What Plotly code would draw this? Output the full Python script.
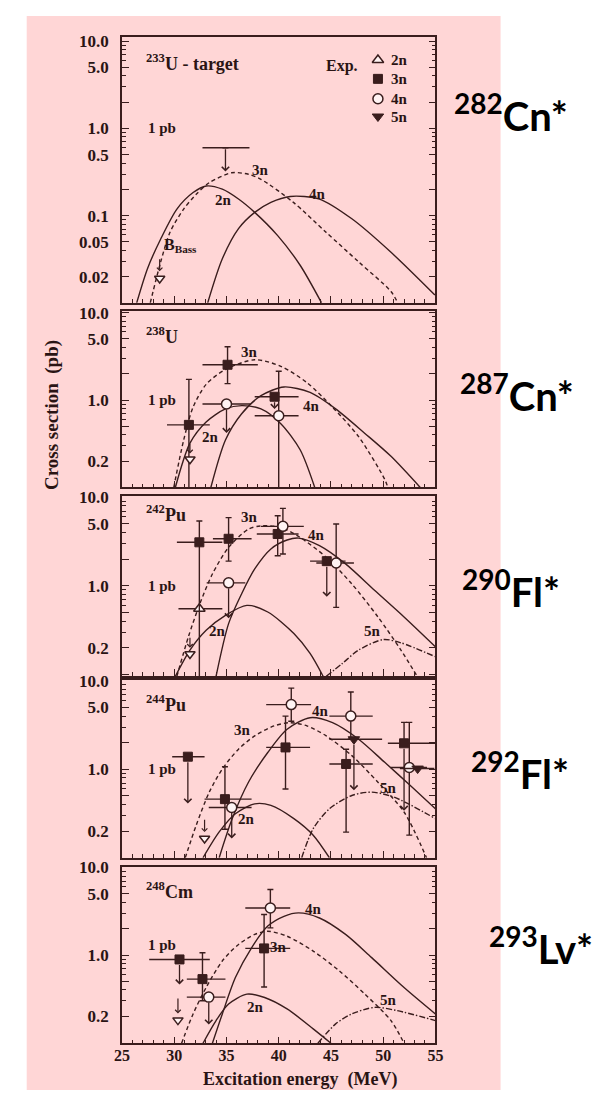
import math
import plotly.graph_objects as go

# ---------------- theoretical excitation functions ----------------
# 233U target -> 282Cn*
u233_2n_E = [26.4, 27.45, 28.7, 30.25, 31.8, 33.05, 34.6, 36.15, 37.7, 39.9, 42.05, 44.1]
u233_2n_S = [0.010, 0.025, 0.054, 0.119, 0.184, 0.219, 0.201, 0.155, 0.109, 0.059, 0.027, 0.010]
u233_3n_E = [27.7, 28.7, 29.6, 30.9, 32.1, 33.35, 35.5, 37.1, 38.3, 41.4, 44.5, 47.65, 50.75, 51.4]
u233_3n_S = [0.010, 0.0295, 0.065, 0.119, 0.176, 0.239, 0.310, 0.298, 0.261, 0.142, 0.065, 0.0295, 0.0135, 0.010]
u233_4n_E = [33.2, 34.6, 36.15, 37.7, 39.25, 41.1, 43.9, 47.0, 50.75, 54.95]
u233_4n_S = [0.010, 0.032, 0.071, 0.109, 0.142, 0.166, 0.155, 0.092, 0.038, 0.0123]

# 238U target -> 287Cn*
u238_2n_E = [30.1, 31.5, 33.05, 34.9, 36.45, 38.3, 40.2, 42.05, 43.45]
u238_2n_S = [0.10, 0.321, 0.561, 0.792, 0.863, 0.792, 0.537, 0.270, 0.10]
u238_3n_E = [29.95, 30.9, 31.8, 33.05, 34.9, 37.7, 40.2, 42.7, 45.15, 47.65, 50.15, 50.45]
u238_3n_S = [0.10, 0.349, 0.828, 1.51, 2.23, 2.89, 2.43, 1.58, 0.828, 0.381, 0.124, 0.10]
u238_4n_E = [33.5, 34.9, 36.45, 38.3, 40.5, 43.0, 45.45, 48.25, 50.75, 53.55]
u238_4n_S = [0.10, 0.349, 0.697, 1.12, 1.41, 1.22, 0.792, 0.415, 0.227, 0.10]

# 242Pu target -> 290Fl*
pu242_2n_E = [30.1, 31.5, 33.05, 34.9, 36.95, 38.95, 41.45, 43.0, 44.25]
pu242_2n_S = [0.095, 0.188, 0.315, 0.464, 0.601, 0.506, 0.289, 0.172, 0.095]
pu242_3n_E = [30.25, 31.35, 32.45, 33.65, 35.2, 37.1, 38.35, 40.2, 42.05, 44.55, 47.0, 49.5, 51.7, 53.25]
pu242_3n_S = [0.095, 0.265, 0.628, 1.36, 2.72, 4.37, 4.76, 4.57, 3.52, 2.10, 1.05, 0.445, 0.188, 0.095]
pu242_4n_E = [34.0, 35.2, 36.45, 37.7, 39.25, 40.8, 41.9, 43.9, 46.4, 49.2, 52.0, 55.0]
pu242_4n_S = [0.095, 0.374, 0.813, 1.55, 2.61, 3.29, 3.46, 2.84, 1.77, 0.885, 0.445, 0.205]
pu242_5n_E = [44.55, 46.1, 47.65, 50.0, 51.7, 55.0]
pu242_5n_S = [0.095, 0.133, 0.188, 0.247, 0.227, 0.158]

# 244Pu target -> 292Fl*
pu244_2n_E = [32.75, 34.3, 35.85, 37.7, 39.25, 41.45, 43.3, 44.85]
pu244_2n_S = [0.10, 0.196, 0.315, 0.407, 0.391, 0.277, 0.18, 0.10]
pu244_3n_E = [31.05, 32.1, 33.35, 34.6, 36.15, 37.7, 39.55, 41.1, 42.7, 44.55, 47.0, 49.5, 52.0, 54.15]
pu244_3n_S = [0.10, 0.233, 0.552, 1.01, 1.69, 2.39, 3.10, 3.37, 3.10, 2.39, 1.43, 0.714, 0.329, 0.10]
pu244_4n_E = [34.3, 35.55, 37.1, 38.95, 40.8, 43.0, 45.15, 47.65, 50.15, 52.6, 55.0]
pu244_4n_S = [0.10, 0.277, 0.714, 1.55, 2.84, 3.84, 3.37, 2.19, 1.20, 0.656, 0.358]
pu244_5n_E = [42.2, 43.3, 44.85, 47.0, 48.9, 51.05, 55.0]
pu244_5n_S = [0.10, 0.213, 0.358, 0.506, 0.552, 0.484, 0.277]

# 248Cm target -> 293Lv*
cm248_2n_E = [32.75, 34.0, 35.2, 36.95, 38.65, 40.8, 43.3, 45.0]
cm248_2n_S = [0.098, 0.178, 0.275, 0.357, 0.327, 0.242, 0.143, 0.098]
cm248_3n_E = [30.7, 31.8, 33.05, 34.6, 36.15, 37.7, 38.95, 40.8, 43.3, 45.8, 48.25, 50.75, 52.0]
cm248_3n_S = [0.098, 0.212, 0.425, 0.855, 1.32, 1.72, 1.87, 1.64, 1.11, 0.658, 0.357, 0.178, 0.098]
cm248_4n_E = [33.65, 34.6, 35.85, 37.4, 38.95, 40.5, 41.9, 43.9, 46.4, 48.9, 52.0, 55.0]
cm248_4n_S = [0.098, 0.212, 0.552, 1.21, 2.14, 2.77, 3.03, 2.65, 1.72, 0.933, 0.425, 0.212]
cm248_5n_E = [43.75, 45.45, 47.0, 49.2, 51.35, 55.0]
cm248_5n_S = [0.098, 0.163, 0.212, 0.252, 0.231, 0.178]

# ---------------- experimental points ----------------
# (E, sigma, E_low, E_high, sigma_low, sigma_high, channel, upper-limit arrow to)
u233_pts = [(34.9, 0.60, 32.7, 37.2, 0.60, 0.60, "ul", 0.32)]
u238_pts = [
    (31.4, 0.52, 29.3, 33.4, 0.05, 1.72, "3n", None),
    (35.1, 2.53, 32.7, 38.0, 1.54, 4.07, "3n", None),
    (35.0, 0.90, 32.7, 37.3, 0.90, 0.90, "4n", 0.42),
    (39.6, 1.09, 37.7, 41.9, 1.09, 1.09, "3n", 0.79),
    (40.0, 0.66, 37.7, 41.9, 0.05, 2.13, "4n", None),
]
pu242_pts = [
    (32.4, 3.10, 30.25, 34.6, 0.05, 5.4, "3n", None),
    (35.2, 3.40, 33.7, 37.4, 1.9, 5.9, "3n", None),
    (35.2, 1.08, 33.1, 36.8, 1.08, 1.08, "4n", 0.43),
    (32.4, 0.55, 30.4, 34.6, 0.55, 0.55, "2n", None),
    (40.4, 4.70, 38.3, 42.4, 2.29, 7.5, "4n", None),
    (39.9, 3.85, 37.9, 41.9, 2.19, 6.2, "3n", None),
    (44.6, 1.90, 43.0, 46.4, 1.90, 1.90, "3n", 0.75),
    (45.5, 1.81, 43.6, 47.2, 0.57, 5.0, "4n", None),
]
pu244_pts = [
    (31.3, 1.39, 29.8, 32.9, 1.39, 1.39, "3n", 0.41),
    (34.85, 0.46, 32.9, 37.4, 0.21, 1.07, "3n", None),
    (35.5, 0.37, 33.3, 37.4, 0.37, 0.37, "4n", 0.165),
    (40.65, 1.77, 38.8, 43.0, 0.60, 4.0, "3n", None),
    (41.2, 5.40, 38.8, 43.1, 3.5, 8.3, "4n", None),
    (46.9, 4.00, 44.85, 49.0, 2.2, 7.5, "4n", None),
    (47.2, 2.19, 44.85, 49.9, 2.19, 2.19, "5n", 0.58),
    (46.45, 1.15, 44.85, 49.0, 0.195, 1.69, "3n", None),
    (52.0, 1.97, 50.45, 55.0, 1.97, 3.4, "3n", 0.34),
    (52.5, 1.05, 50.7, 54.2, 0.18, 3.4, "4n", None),
    (53.3, 1.02, 51.6, 54.9, 1.02, 1.02, "5n", None),
]
cm248_pts = [
    (30.5, 0.89, 27.6, 33.4, 0.89, 0.89, "3n", 0.46),
    (32.7, 0.53, 31.2, 34.9, 0.30, 1.06, "3n", None),
    (33.3, 0.33, 31.2, 34.9, 0.33, 0.33, "4n", 0.16),
    (39.2, 3.45, 36.8, 41.1, 2.04, 5.6, "4n", None),
    (38.6, 1.19, 36.8, 41.1, 0.43, 2.9, "3n", None),
]
# 2n upper limits (open down-triangles) : (E, sigma, arrow tail, arrow head)
u233_tri = [(28.6, 0.019, 0.033, 0.023)]
u238_tri = [(31.5, 0.21, 0.33, 0.245)]
pu242_tri = [(31.5, 0.17, 0.27, 0.20)]
pu244_tri = [(32.9, 0.165, 0.28, 0.195)]
cm248_tri = [(30.35, 0.18, 0.33, 0.215)]

# curve labels: (text, E, sigma)
u233_lbl = [("3n", 38.3, 0.333), ("2n", 34.7, 0.152), ("4n", 43.7, 0.178)]
u238_lbl = [("3n", 37.2, 3.55), ("2n", 33.5, 0.374), ("4n", 43.1, 0.857)]
pu242_lbl = [("3n", 37.2, 5.96), ("4n", 43.6, 3.74), ("2n", 34.1, 0.312), ("5n", 49.0, 0.312)]
pu244_lbl = [("4n", 44.0, 4.6), ("3n", 36.5, 2.81), ("2n", 36.9, 0.274), ("5n", 50.5, 0.612)]
cm248_lbl = [("4n", 43.3, 3.33), ("3n", 40.0, 1.23), ("2n", 37.8, 0.257), ("5n", 50.5, 0.308)]

targets = ["<sup>233</sup>U - target", "<sup>238</sup>U", "<sup>242</sup>Pu", "<sup>244</sup>Pu", "<sup>248</sup>Cm"]
compounds = ["<sup>282</sup>Cn*", "<sup>287</sup>Cn*", "<sup>290</sup>Fl*", "<sup>292</sup>Fl*", "<sup>293</sup>Lv*"]
x_tick_vals = [25, 30, 35, 40, 45, 50, 55]
legend_channels = ["2n", "3n", "4n", "5n"]
legend_sigma = [6.08, 3.7, 2.19, 1.37]

# ---------------- styling / layout ----------------
# the page adds an 8px body margin, so the figure is drawn 16px smaller and shifted
OFF = 8
W, H = 610 - 2 * OFF, 1098 - 2 * OFF
PINK = "#FFD6D6"
INK = "#3a1d1d"
TXT = "#2a1414"
SERIF = "Liberation Serif"
X0, X1 = 117 - OFF, 439 - OFF
panel_px = [(29, 297), (305, 483), (492, 673), (677, 856), (865, 1043)]
y_ranges = [[-2.0, 1.05], [-1.0, 1.02], [-1.02, 1.01], [-1.0, 1.01], [-1.01, 1.01]]
title_ydom = [0.905, 0.86, 0.905, 0.87, 0.865]
comp_xy = [(517, 106), (523, 388), (517, 585), (526, 769), (548, 945)]

curves = [
    [(u233_2n_E, u233_2n_S, "solid"), (u233_3n_E, u233_3n_S, "dash"), (u233_4n_E, u233_4n_S, "solid")],
    [(u238_2n_E, u238_2n_S, "solid"), (u238_3n_E, u238_3n_S, "dash"), (u238_4n_E, u238_4n_S, "solid")],
    [(pu242_2n_E, pu242_2n_S, "solid"), (pu242_3n_E, pu242_3n_S, "dash"), (pu242_4n_E, pu242_4n_S, "solid"),
     (pu242_5n_E, pu242_5n_S, "dashdot")],
    [(pu244_2n_E, pu244_2n_S, "solid"), (pu244_3n_E, pu244_3n_S, "dash"), (pu244_4n_E, pu244_4n_S, "solid"),
     (pu244_5n_E, pu244_5n_S, "dashdot")],
    [(cm248_2n_E, cm248_2n_S, "solid"), (cm248_3n_E, cm248_3n_S, "dash"), (cm248_4n_E, cm248_4n_S, "solid"),
     (cm248_5n_E, cm248_5n_S, "dashdot")],
]
points = [u233_pts, u238_pts, pu242_pts, pu244_pts, cm248_pts]
tris = [u233_tri, u238_tri, pu242_tri, pu244_tri, cm248_tri]
labels = [u233_lbl, u238_lbl, pu242_lbl, pu244_lbl, cm248_lbl]

DASH = {"solid": "solid", "dash": "4px,3px", "dashdot": "6px,2px,1.5px,2px"}
LIGHT = "#FFF3F3"
MARK = {
    "2n": dict(symbol="triangle-up", size=10, color=LIGHT, line=dict(color=INK, width=1.5)),
    "3n": dict(symbol="square", size=9, color=INK, line=dict(color=INK, width=1)),
    "4n": dict(symbol="circle", size=10, color=LIGHT, line=dict(color=INK, width=1.5)),
    "5n": dict(symbol="triangle-down", size=10, color=INK, line=dict(color=INK, width=1)),
    "ul": dict(symbol="circle", size=1, color=INK),
}
TICKFONT = dict(family=SERIF, size=17, color=TXT, weight="bold")
XTICKFONT = dict(family=SERIF, size=16, color=TXT, weight="bold")
LBLFONT = dict(family=SERIF, size=15, color=TXT, weight="bold")


def px_x(p):
    return (p - OFF) / W


def px_y(p):
    return 1 - (p - OFF) / H


def sfx(i):
    return "" if i == 0 else str(i + 1)


fig = go.Figure()
annotations = []
shapes = [dict(type="rect", xref="paper", yref="paper", x0=px_x(19), x1=px_x(506),
               y0=max(0, px_y(1090)), y1=1, fillcolor=PINK, line=dict(width=0), layer="below")]
layout_axes = {}

for i in range(5):
    s = sfx(i)
    xa, ya = "x" + s, "y" + s
    top, bot = panel_px[i]

    if i == 0:
        tv = [0.02, 0.05, 0.1, 0.2, 0.5, 1, 2, 5, 10]
        tt = ["0.02", "0.05", "0.1", "", "0.5", "1.0", "", "5.0", "10.0"]
    else:
        tv = [0.1, 0.2, 0.5, 1, 2, 5, 10]
        tt = ["", "0.2", "", "1.0", "", "5.0", "10.0"]
    layout_axes["xaxis" + s] = dict(
        domain=[X0 / W, X1 / W], range=[25, 55], anchor=ya, showgrid=False, zeroline=False,
        showline=True, linecolor=INK, linewidth=1.6, mirror=True,
        ticks="inside", ticklen=7, tickwidth=1.3, tickcolor=INK, tickvals=x_tick_vals,
        showticklabels=(i == 4), ticklabelstandoff=-3, tickfont=XTICKFONT,
        minor=dict(ticks="inside", ticklen=4, tickwidth=1.1, tickcolor=INK, dtick=1, showgrid=False),
    )
    layout_axes["yaxis" + s] = dict(
        domain=[px_y(bot), px_y(top)], type="log", range=y_ranges[i], anchor=xa,
        showgrid=False, zeroline=False, showline=True, linecolor=INK, linewidth=1.6, mirror="ticks",
        ticks="inside", ticklen=7, tickwidth=1.3, tickcolor=INK, tickvals=tv, ticktext=tt,
        ticklabelstandoff=8, tickfont=TICKFONT,
        minor=dict(ticks="inside", ticklen=4, tickwidth=1.0, tickcolor=INK, dtick="D1", showgrid=False),
    )

    for E, S, st in curves[i]:
        fig.add_trace(go.Scatter(x=E, y=S, mode="lines", xaxis=xa, yaxis=ya, showlegend=False,
                                 line=dict(color=INK, width=1.4, dash=DASH[st], shape="spline", smoothing=0.8),
                                 hoverinfo="skip"))

    for ch in ["ul", "2n", "3n", "4n", "5n"]:
        pts = [p for p in points[i] if p[6] == ch]
        if not pts:
            continue
        fig.add_trace(go.Scatter(
            x=[p[0] for p in pts], y=[p[1] for p in pts], mode="markers", xaxis=xa, yaxis=ya,
            showlegend=False, marker=MARK[ch],
            error_x=dict(type="data", symmetric=False, array=[p[3] - p[0] for p in pts],
                         arrayminus=[p[0] - p[2] for p in pts], width=0, thickness=1.4, color=INK),
            error_y=dict(type="data", symmetric=False, array=[p[5] - p[1] for p in pts],
                         arrayminus=[p[1] - p[4] for p in pts], width=3, thickness=1.4, color=INK),
        ))
        for p in pts:
            if p[7] is not None:
                annotations.append(dict(
                    x=p[0], y=math.log10(p[7]), ax=p[0], ay=math.log10(p[1]),
                    xref=xa, yref=ya, axref=xa, ayref=ya, text="", showarrow=True,
                    arrowhead=4, arrowsize=1.1, arrowwidth=1.3, arrowcolor=INK,
                    startstandoff=(4 if ch != "ul" else 0), standoff=0))

    tr = tris[i]
    fig.add_trace(go.Scatter(
        x=[t[0] for t in tr], y=[t[1] for t in tr], mode="markers", xaxis=xa, yaxis=ya,
        showlegend=False,
        marker=dict(symbol="triangle-down", size=9, color=LIGHT, line=dict(color=INK, width=1.5))))
    for t in tr:
        annotations.append(dict(
            x=t[0], y=math.log10(t[3]), ax=t[0], ay=math.log10(t[2]),
            xref=xa, yref=ya, axref=xa, ayref=ya, text="", showarrow=True,
            arrowhead=4, arrowsize=0.9, arrowwidth=1.2, arrowcolor=INK, standoff=0))

    for txt, E, S in labels[i]:
        annotations.append(dict(x=E, y=math.log10(S), xref=xa, yref=ya, text=txt, showarrow=False,
                                xanchor="center", yanchor="middle", font=LBLFONT))

    annotations.append(dict(x=23 / (X1 - X0), y=title_ydom[i], xref=xa + " domain", yref=ya + " domain",
                            text=targets[i], showarrow=False, xanchor="left", yanchor="middle",
                            font=dict(family=SERIF, size=18, color=TXT, weight="bold")))

    for x0, x1 in [(0, 21 / (X1 - X0)), (1 - 21 / (X1 - X0), 1)]:
        shapes.append(dict(type="line", xref=xa + " domain", yref=ya, x0=x0, x1=x1, y0=0, y1=0,
                           line=dict(color=INK, width=2)))
    annotations.append(dict(x=25 / (X1 - X0), y=0, xref=xa + " domain", yref=ya, text="1 pb",
                            showarrow=False, xanchor="left", yanchor="middle",
                            yshift=(10 if i == 4 else 0), font=LBLFONT))

    cx, cy = comp_xy[i]
    annotations.append(dict(x=px_x(cx), y=px_y(cy), xref="paper", yref="paper", text=compounds[i],
                            showarrow=False, xanchor="center", yanchor="middle",
                            font=dict(family="Lato", size=40, color="#000000", weight="bold")))

leg_E = 49.5
for ch, sg in zip(legend_channels, legend_sigma):
    fig.add_trace(go.Scatter(x=[leg_E], y=[sg], mode="markers", xaxis="x", yaxis="y", showlegend=False,
                             marker=MARK[ch], hoverinfo="skip"))
    annotations.append(dict(x=leg_E + 1.1, y=math.log10(sg), xref="x", yref="y", text=ch, showarrow=False,
                            xanchor="left", yanchor="middle", font=LBLFONT))
annotations.append(dict(x=46.1, y=math.log10(5.2), xref="x", yref="y", text="Exp.", showarrow=False,
                        xanchor="center", yanchor="middle",
                        font=dict(family=SERIF, size=16, color=TXT, weight="bold")))
annotations.append(dict(x=28.8, y=math.log10(0.046), xref="x", yref="y", text="B<sub>Bass</sub>",
                        showarrow=False, xanchor="left", yanchor="middle",
                        font=dict(family=SERIF, size=16, color=TXT, weight="bold")))

annotations.append(dict(x=px_x(45), y=px_y(410), xref="paper", yref="paper",
                        text="Cross section\u00a0\u00a0(pb)", showarrow=False, textangle=-90,
                        xanchor="center", yanchor="middle",
                        font=dict(family=SERIF, size=19, color=TXT, weight="bold")))
annotations.append(dict(x=px_x(300), y=px_y(1079), xref="paper", yref="paper",
                        text="Excitation energy\u00a0\u00a0(MeV)", showarrow=False,
                        xanchor="center", yanchor="middle",
                        font=dict(family=SERIF, size=18, color=TXT, weight="bold")))

fig.update_layout(
    width=W, height=H, margin=dict(l=0, r=0, t=0, b=0), autosize=False,
    paper_bgcolor="white", plot_bgcolor="rgba(0,0,0,0)",
    showlegend=False, annotations=annotations, shapes=shapes, **layout_axes,
)

fig.write_html(
    "out.html",
    config={"responsive": False, "displayModeBar": False},
    default_width=f"{W}px", default_height=f"{H}px",
)
